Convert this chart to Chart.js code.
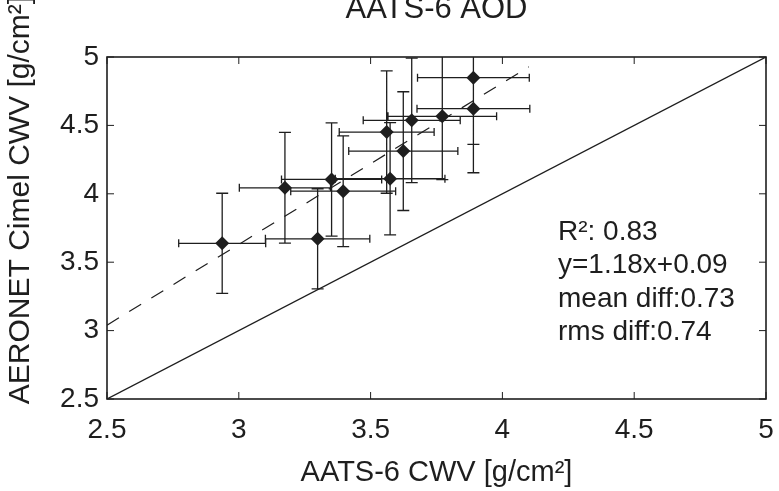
<!DOCTYPE html>
<html>
<head>
<meta charset="utf-8">
<script src="https://cdn.jsdelivr.net/npm/chart.js@4.4.0/dist/chart.umd.min.js"></script>
<style>
  body { margin: 0; background: #fff; }
  #wrap { width: 779px; height: 491px; }
</style>
</head>
<body>
<div id="wrap"><canvas id="myChart" width="779" height="491"></canvas></div>
<script>
// AATS-6 vs AERONET Cimel column water vapour
const aatsCwv  = [3.890, 3.890, 3.772, 3.656, 3.561, 3.624, 3.574, 3.352, 3.175, 3.396, 3.299, 2.937];
const cimelCwv = [4.849, 4.622, 4.566, 4.537, 4.451, 4.312, 4.110, 4.105, 4.044, 4.019, 3.671, 3.638];
const aatsErr  = [0.212, 0.214, 0.206, 0.184, 0.180, 0.207, 0.208, 0.190, 0.173, 0.199, 0.198, 0.165];
const cimelErr = [0.488, 0.468, 0.463, 0.455, 0.447, 0.434, 0.410, 0.414, 0.405, 0.405, 0.366, 0.366];

const fitLineX = [2.5, 4.1];
const fitSlope = 1.18, fitOffset = 0.09;
const oneToOneX = [2.5, 5];
const tickValues = [2.5, 3, 3.5, 4, 4.5, 5];

const statsLines = ['R\u00b2: 0.83', 'y=1.18x+0.09', 'mean diff:0.73', 'rms diff:0.74'];

const ink = '#1e1e1e';
const fontFam = '"Liberation Sans", Arial, Helvetica, sans-serif';

const pointsData = aatsCwv.map((x, i) => ({ x: x, y: cimelCwv[i] }));
const fitData = fitLineX.map(x => ({ x: x, y: fitSlope * x + fitOffset }));
const diagData = oneToOneX.map(x => ({ x: x, y: x }));

// error bars under the markers
const errorBars = {
  id: 'errorBars',
  beforeDatasetsDraw(chart) {
    const { ctx, chartArea: a, scales: { x, y } } = chart;
    ctx.save();
    ctx.beginPath();
    ctx.rect(a.left, a.top, a.right - a.left, a.bottom - a.top);
    ctx.clip();
    ctx.strokeStyle = ink;
    ctx.lineWidth = 1.3;
    ctx.beginPath();
    aatsCwv.forEach((xv, i) => {
      const px = x.getPixelForValue(xv), py = y.getPixelForValue(cimelCwv[i]);
      const x0 = x.getPixelForValue(xv - aatsErr[i]), x1 = x.getPixelForValue(xv + aatsErr[i]);
      const y0 = y.getPixelForValue(cimelCwv[i] - cimelErr[i]), y1 = y.getPixelForValue(cimelCwv[i] + cimelErr[i]);
      ctx.moveTo(x0, py); ctx.lineTo(x1, py);
      ctx.moveTo(x0, py - 4); ctx.lineTo(x0, py + 4);
      ctx.moveTo(x1, py - 4); ctx.lineTo(x1, py + 4);
      ctx.moveTo(px, y0); ctx.lineTo(px, y1);
      ctx.moveTo(px - 6, y0); ctx.lineTo(px + 6, y0);
      ctx.moveTo(px - 6, y1); ctx.lineTo(px + 6, y1);
    });
    ctx.stroke();
    ctx.restore();
  }
};

// box, inward ticks, titles and the stats text
const frame = {
  id: 'frame',
  afterDraw(chart) {
    const { ctx, chartArea: a, scales: { x, y } } = chart;
    ctx.save();
    ctx.strokeStyle = ink;
    ctx.lineWidth = 1.6;
    ctx.strokeRect(a.left, a.top, a.right - a.left, a.bottom - a.top);
    ctx.lineWidth = 1;
    ctx.beginPath();
    tickValues.forEach(v => {
      const px = x.getPixelForValue(v), py = y.getPixelForValue(v);
      ctx.moveTo(px, a.bottom); ctx.lineTo(px, a.bottom - 7);
      ctx.moveTo(px, a.top); ctx.lineTo(px, a.top + 7);
      ctx.moveTo(a.left, py); ctx.lineTo(a.left + 7, py);
      ctx.moveTo(a.right, py); ctx.lineTo(a.right - 7, py);
    });
    ctx.stroke();

    ctx.fillStyle = ink;
    ctx.textAlign = 'center';
    ctx.textBaseline = 'alphabetic';
    ctx.font = '31px ' + fontFam;
    ctx.fillText('AATS-6 AOD', (a.left + a.right) / 2, 18);

    ctx.font = '29px ' + fontFam;
    ctx.fillText('AATS-6 CWV [g/cm\u00b2]', (a.left + a.right) / 2, 481);

    ctx.save();
    ctx.font = '30px ' + fontFam;
    ctx.translate(29, 200);
    ctx.rotate(-Math.PI / 2);
    ctx.fillText('AERONET Cimel CWV [g/cm\u00b2]', 0, 0);
    ctx.restore();

    ctx.textAlign = 'left';
    ctx.font = '28px ' + fontFam;
    statsLines.forEach((s, i) => {
      ctx.fillText(s, 558, 240 + i * 33.3);
    });
    ctx.restore();
  }
};

const axisFont = { family: fontFam, size: 28 };

new Chart(document.getElementById('myChart'), {
  type: 'scatter',
  data: {
    datasets: [
      {
        label: 'CWV',
        data: pointsData,
        pointStyle: 'rectRot',
        pointRadius: 7,
        pointHoverRadius: 7,
        backgroundColor: ink,
        borderColor: ink,
        borderWidth: 0
      },
      {
        label: 'fit',
        data: fitData,
        showLine: true,
        pointRadius: 0,
        borderColor: ink,
        borderWidth: 1.2,
        borderDash: [14, 12]
      },
      {
        label: '1:1',
        data: diagData,
        showLine: true,
        pointRadius: 0,
        borderColor: ink,
        borderWidth: 1.3
      }
    ]
  },
  options: {
    responsive: false,
    animation: false,
    layout: { padding: { top: 57, right: 13, left: 0, bottom: 0 } },
    plugins: { legend: { display: false }, tooltip: { enabled: false } },
    scales: {
      x: {
        type: 'linear', min: 2.5, max: 5,
        border: { display: false },
        grid: { display: false, drawTicks: false },
        ticks: { stepSize: 0.5, color: ink, font: axisFont, padding: 14, maxRotation: 0,
                 callback: v => String(v) },
        afterFit: s => { s.height = 92; s.paddingLeft = 0; s.paddingRight = 0; }
      },
      y: {
        type: 'linear', min: 2.5, max: 5,
        border: { display: false },
        grid: { display: false, drawTicks: false },
        ticks: { stepSize: 0.5, color: ink, font: axisFont, padding: 8,
                 callback: v => String(v) },
        afterFit: s => { s.width = 107; s.paddingTop = 0; s.paddingBottom = 0; }
      }
    }
  },
  plugins: [errorBars, frame]
});
</script>
</body>
</html>
